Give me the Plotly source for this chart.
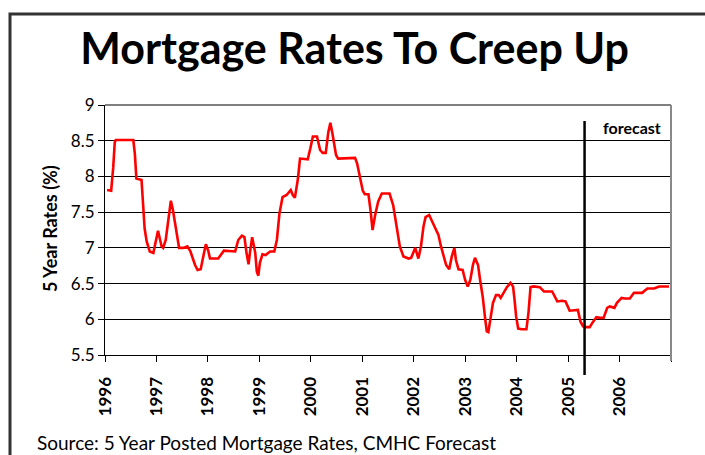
import plotly.graph_objects as go

# Decimal-year positions and 5-year posted mortgage rates (%)
years = [1996.04, 1996.12, 1996.16, 1996.19, 1996.21, 1996.55, 1996.58, 1996.61, 1996.71, 1996.74,
         1996.77, 1996.81, 1996.87, 1996.94, 1996.97, 1997.03, 1997.10, 1997.13, 1997.18, 1997.23,
         1997.28, 1997.32, 1997.39, 1997.44, 1997.52, 1997.60, 1997.66, 1997.75, 1997.80, 1997.86,
         1997.91, 1997.96, 1998.01, 1998.04, 1998.20, 1998.31, 1998.53, 1998.59, 1998.66, 1998.71,
         1998.75, 1998.79, 1998.82, 1998.86, 1998.92, 1998.95, 1998.98, 1999.01, 1999.06, 1999.12,
         1999.21, 1999.29, 1999.34, 1999.39, 1999.45, 1999.53, 1999.61, 1999.65, 1999.69, 1999.75,
         1999.79, 1999.86, 1999.94, 1999.99, 2000.04, 2000.12, 2000.18, 2000.23, 2000.29, 2000.34,
         2000.38, 2000.42, 2000.46, 2000.49, 2000.53, 2000.86, 2000.90, 2000.95, 2001.01, 2001.05,
         2001.12, 2001.16, 2001.20, 2001.25, 2001.31, 2001.38, 2001.53, 2001.60, 2001.67, 2001.73,
         2001.80, 2001.90, 2001.95, 2002.03, 2002.09, 2002.14, 2002.19, 2002.23, 2002.30, 2002.38,
         2002.48, 2002.53, 2002.58, 2002.63, 2002.69, 2002.74, 2002.79, 2002.82, 2002.87, 2002.95,
         2003.00, 2003.05, 2003.10, 2003.15, 2003.19, 2003.25, 2003.29, 2003.34, 2003.39, 2003.42,
         2003.45, 2003.50, 2003.54, 2003.60, 2003.65, 2003.69, 2003.75, 2003.81, 2003.88, 2003.93,
         2003.96, 2003.99, 2004.03, 2004.10, 2004.19, 2004.23, 2004.27, 2004.33, 2004.45, 2004.53,
         2004.69, 2004.79, 2004.88, 2004.95, 2005.03, 2005.11, 2005.19, 2005.24, 2005.29, 2005.36,
         2005.42, 2005.48, 2005.55, 2005.62, 2005.69, 2005.76, 2005.81, 2005.90, 2005.95, 2006.04,
         2006.10, 2006.20, 2006.28, 2006.44, 2006.54, 2006.67, 2006.77, 2006.96]
rates = [7.81, 7.80, 8.13, 8.48, 8.51, 8.51, 8.32, 7.97, 7.95, 7.67,
         7.27, 7.09, 6.95, 6.93, 7.02, 7.24, 7.02, 7.00, 7.11, 7.35,
         7.66, 7.53, 7.23, 7.00, 7.00, 7.02, 6.95, 6.76, 6.69, 6.70,
         6.88, 7.05, 6.95, 6.85, 6.85, 6.96, 6.95, 7.11, 7.17, 7.15,
         6.93, 6.77, 6.95, 7.15, 6.93, 6.67, 6.61, 6.79, 6.91, 6.90,
         6.95, 6.95, 7.11, 7.48, 7.71, 7.74, 7.81, 7.74, 7.70, 7.97,
         8.25, 8.25, 8.24, 8.39, 8.56, 8.56, 8.37, 8.33, 8.33, 8.62,
         8.75, 8.60, 8.40, 8.30, 8.25, 8.26, 8.18, 8.00, 7.80, 7.75,
         7.75, 7.53, 7.25, 7.46, 7.65, 7.76, 7.76, 7.60, 7.30, 7.02,
         6.88, 6.85, 6.86, 7.00, 6.85, 7.02, 7.30, 7.43, 7.46, 7.34,
         7.18, 7.02, 6.88, 6.76, 6.70, 6.88, 7.00, 6.83, 6.70, 6.69,
         6.55, 6.46, 6.55, 6.76, 6.86, 6.76, 6.55, 6.32, 6.00, 5.83,
         5.82, 6.02, 6.23, 6.34, 6.34, 6.30, 6.37, 6.45, 6.51, 6.46,
         6.27, 6.04, 5.87, 5.86, 5.86, 6.09, 6.45, 6.46, 6.45, 6.39,
         6.39, 6.25, 6.26, 6.25, 6.12, 6.12, 6.13, 5.97, 5.90, 5.89,
         5.89, 5.96, 6.03, 6.02, 6.02, 6.16, 6.18, 6.16, 6.23, 6.30,
         6.29, 6.29, 6.37, 6.37, 6.43, 6.43, 6.46, 6.46]

x_tick_vals = [1996, 1997, 1998, 1999, 2000, 2001, 2002, 2003, 2004, 2005, 2006, 2007]
x_tick_text = ["1996", "1997", "1998", "1999", "2000", "2001", "2002", "2003", "2004", "2005", "2006", ""]
y_tick_vals = [5.5, 6, 6.5, 7, 7.5, 8, 8.5, 9]
y_tick_text = ["5.5", "6", "6.5", "7", "7.5", "8", "8.5", "9"]
forecast_start = 2005.32

title_text = "Mortgage Rates To Creep Up"
y_title = "5 Year Rates (%)"
source_text = "Source: 5 Year Posted Mortgage Rates, CMHC Forecast"
forecast_label = "forecast"

FONT = "Lato"

fig = go.Figure()
fig.add_trace(go.Scatter(x=years, y=rates, mode="lines",
                         line=dict(color="#ff0000", width=2.6), showlegend=False,
                         hoverinfo="x+y"))

W, H = 705, 455
ml, mr, mt, mb = 105, 34, 105, 100
pw, ph = W - ml - mr, H - mt - mb

def px_x(p):
    return (p - ml) / pw

def px_y(p):
    return (H - mb - p) / ph

shapes = [
    # outer frame
    dict(type="rect", xref="paper", yref="paper", x0=px_x(10), x1=px_x(730),
         y0=px_y(480), y1=px_y(14), line=dict(color="#333333", width=3), layer="below"),
    # plot border (top & right)
    dict(type="line", xref="paper", yref="paper", x0=0, x1=1, y0=1, y1=1,
         line=dict(color="#555555", width=1.5)),
    dict(type="line", xref="paper", yref="paper", x0=1, x1=1, y0=px_y(361), y1=1,
         line=dict(color="#888888", width=2)),
    # forecast divider
    dict(type="line", xref="x", yref="paper", x0=forecast_start, x1=forecast_start,
         y0=px_y(375), y1=px_y(121), line=dict(color="#000000", width=2.5)),
]

fig.update_layout(
    width=W, height=H,
    margin=dict(l=ml, r=mr, t=mt, b=mb),
    paper_bgcolor="white", plot_bgcolor="white",
    font=dict(family=FONT, color="black"),
    title=dict(text="<b>" + title_text + "</b>", x=0.503, xref="container",
               xanchor="center", y=1 - 49 / H, yref="container", yanchor="middle",
               font=dict(family=FONT, size=43, color="black")),
    xaxis=dict(range=[1996, 2007], tickmode="array", tickvals=x_tick_vals, ticktext=x_tick_text,
               tickangle=-90, tickfont=dict(family=FONT, size=17, color="black", weight="bold"),
               ticklabelstandoff=8,
               showgrid=False, zeroline=False, showline=True, linecolor="black", linewidth=1.2,
               ticks="outside", ticklen=6, tickcolor="black", tickwidth=1.2),
    yaxis=dict(range=[5.5, 9], tickmode="array", tickvals=y_tick_vals, ticktext=y_tick_text,
               tickfont=dict(family=FONT, size=17, color="black"),
               showgrid=True, gridcolor="black", gridwidth=1, zeroline=False,
               showline=True, linecolor="black", linewidth=1.2,
               ticks="outside", ticklen=6, tickcolor="black", tickwidth=1.2),
    shapes=shapes,
    annotations=[
        dict(text="<b>" + y_title + "</b>", xref="paper", yref="paper", x=px_x(50), y=px_y(229),
             textangle=-90, showarrow=False, xanchor="center", yanchor="middle",
             font=dict(family=FONT, size=18, color="black")),
        dict(text="<b>" + forecast_label + "</b>", xref="paper", yref="paper", x=px_x(632), y=px_y(127),
             showarrow=False, xanchor="center", yanchor="middle",
             font=dict(family=FONT, size=16, color="black")),
        dict(text=source_text, xref="paper", yref="paper", x=px_x(35), y=px_y(443),
             showarrow=False, xanchor="left", yanchor="middle",
             font=dict(family=FONT, size=19, color="black")),
    ],
)

fig.write_html("out.html")
